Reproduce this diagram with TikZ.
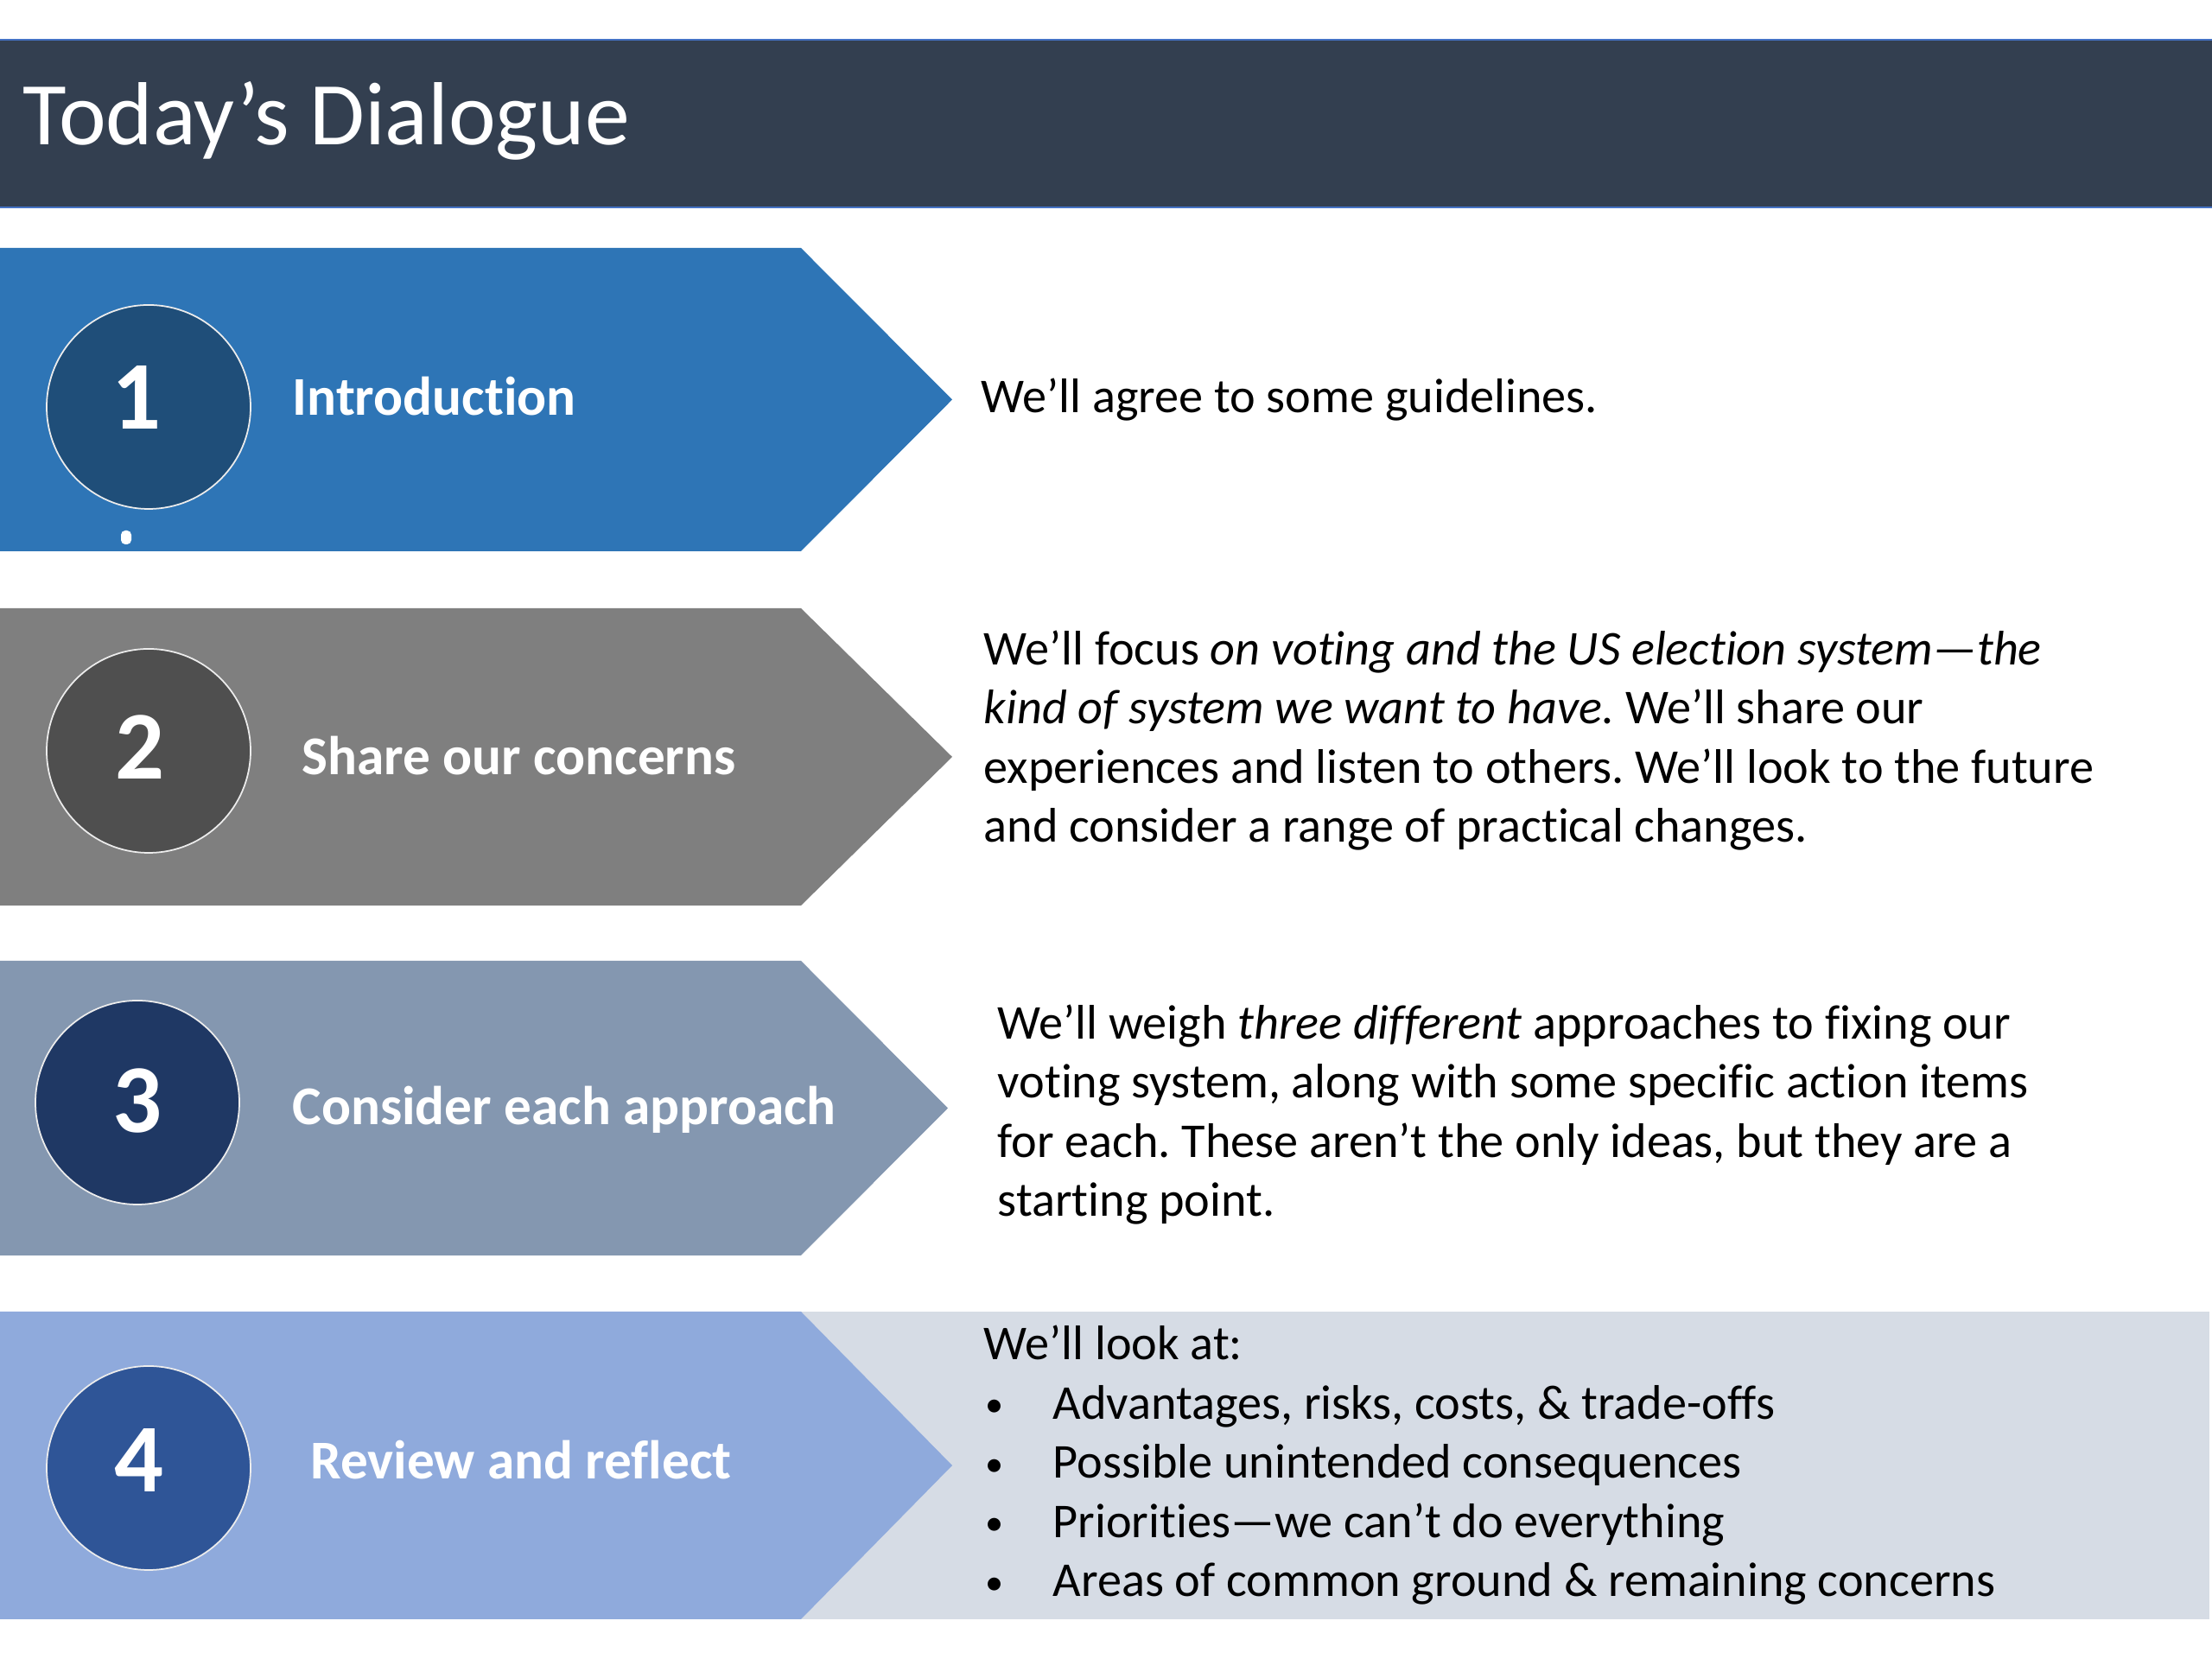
\documentclass[tikz,border=0pt]{standalone}
\usepackage{fontspec}
\setmainfont{Carlito}[Ligatures=NoCommon]
\usepackage{tikz}
\usetikzlibrary{positioning}
\definecolor{titlebg}{HTML}{333F50}
\definecolor{titleline}{HTML}{4472C4}
\definecolor{introblue}{HTML}{2E75B6}
\definecolor{introdark}{HTML}{1F4E79}
\definecolor{sharegray}{HTML}{7F7F7F}
\definecolor{sharedark}{HTML}{4F4F4F}
\definecolor{weighslate}{HTML}{8497B0}
\definecolor{weighdark}{HTML}{1F3864}
\definecolor{reviewblue}{HTML}{8FAADC}
\definecolor{reviewdark}{HTML}{2F5597}
\definecolor{reviewbg}{HTML}{D6DCE5}
\newcommand{\bul}{\hspace{0.02cm}\makebox[0.78cm][l]{\raisebox{0.05em}{\fontsize{12}{12}\selectfont\textbullet}}}
\frenchspacing

\begin{document}
\begin{tikzpicture}
  \tikzstyle{stepcircle} = [circle, minimum size=2.36cm, inner sep=0pt, draw=white!85!gray, line width=0.5pt]
  \tikzstyle{stepnum} = [inner sep=0pt, text=white, font=\fontsize{32}{38}\selectfont\bfseries]
  \tikzstyle{steplabel} = [inner sep=0pt, text=white, font=\fontsize{18}{22}\selectfont\bfseries]
  \tikzstyle{desc} = [inner sep=0pt, align=left, text=black, font=\fontsize{16}{19.5}\selectfont\frenchspacing]
  \useasboundingbox (0,0) rectangle (25.6,19.2);

  % Title bar
  \fill[titlebg] (0,16.80) rectangle (25.6,18.74);
  \draw[titleline, line width=0.8pt] (-0.1,16.80) -- (25.7,16.80) (-0.1,18.74) -- (25.7,18.74);
  \node[inner sep=0pt, anchor=base west, text=white, font=\fontsize{29.5}{35}\selectfont] (title) at (0.26,17.52) {Today’s Dialogue};

  % Chevrons
  \fill[introblue] (0,16.33) -- (9.27,16.33) -- (11.02,14.575) -- (9.27,12.82) -- (0,12.82) -- cycle;
  \fill[sharegray] (0,12.16) -- (9.27,12.16) -- (11.02,10.44) -- (9.27,8.72) -- (0,8.72) -- cycle;
  \fill[weighslate] (0,8.08) -- (9.27,8.08) -- (10.97,6.375) -- (9.27,4.67) -- (0,4.67) -- cycle;
  \fill[reviewbg] (9.22,4.02) rectangle (25.57,0.46);
  \fill[reviewblue] (0,4.02) -- (9.27,4.02) -- (11.02,2.24) -- (9.27,0.46) -- (0,0.46) -- cycle;

  % Row 1: Introduction
  \node[stepcircle, fill=introdark] (c1) at (1.72,14.49) {};
  \node[stepnum] (n1) at (1.58,14.60) {1};
  \node[fill=white, rounded corners=0.05cm, minimum width=0.12cm, minimum height=0.16cm, inner sep=0pt] (dot) at (1.46,12.98) {};
  \node[steplabel, anchor=base west] (l1) at (3.38,14.39) {Introduction};
  \node[desc, anchor=base west] (d1) at (11.35,14.42) {We’ll agree to some guidelines.};

  % Row 2: Share our concerns
  \node[stepcircle, fill=sharedark] (c2) at (1.72,10.51) {};
  \node[stepnum] (n2) at (1.62,10.55) {2};
  \node[steplabel, anchor=base west] (l2) at (3.49,10.23) {Share our concerns};
  \node[desc, anchor=base west] (d2) at (11.38,9.45) {We’ll focus \textit{on voting and the US election system—the}\\\textit{kind of system we want to have.} We’ll share our\\experiences and listen to others. We’ll look to the future\\and consider a range of practical changes.};

  % Row 3: Consider each approach
  \node[stepcircle, fill=weighdark] (c3) at (1.59,6.44) {};
  \node[stepnum] (n3) at (1.59,6.46) {3};
  \node[steplabel, anchor=base west] (l3) at (3.38,6.18) {Consider each approach};
  \node[desc, anchor=base west] (d3) at (11.54,5.12) {We’ll weigh \textit{three different} approaches to fixing our\\voting system, along with some specific action items\\for each. These aren’t the only ideas, but they are a\\starting point.};

  % Row 4: Review and reflect
  \node[stepcircle, fill=reviewdark] (c4) at (1.72,2.21) {};
  \node[stepnum] (n4) at (1.61,2.30) {4};
  \node[steplabel, anchor=base west] (l4) at (3.59,2.08) {Review and reflect};
  \node[desc, anchor=base west] (d4) at (11.38,0.72) {We’ll look at:\\\bul Advantages, risks, costs, \& trade-offs\\\bul Possible unintended consequences\\\bul Priorities—we can’t do everything\\\bul Areas of common ground \& remaining concerns};
\end{tikzpicture}
\end{document}
